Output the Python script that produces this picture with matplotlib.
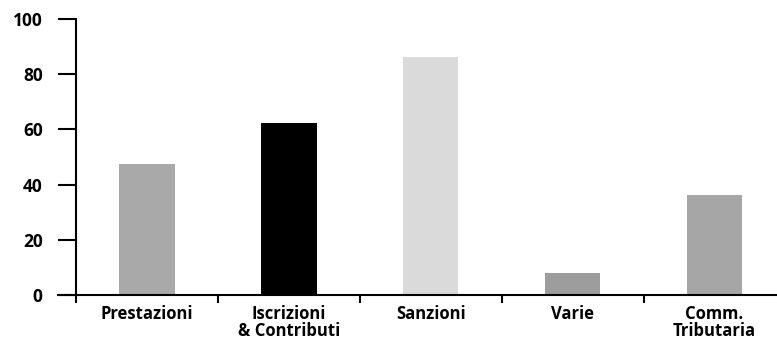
import matplotlib
matplotlib.use("Agg")
import matplotlib.pyplot as plt
import numpy as np

plt.rcParams["font.family"] = ["Open Sans", "DejaVu Sans"]

# data
categories = ["Prestazioni", "Iscrizioni\n& Contributi", "Sanzioni", "Varie", "Comm.\nTributaria"]
values = [47.5, 62.3, 86.2, 8.0, 36.2]
bar_colors = ["#a9a9a9", "#000000", "#dadada", "#9d9d9d", "#a6a6a6"]
yticks = [0, 20, 40, 60, 80, 100]

fig = plt.figure(figsize=(7.77, 3.43), dpi=100)
ax = fig.add_axes([0.0746, 0.140, 0.9254, 0.805])

x = np.arange(len(categories))
ax.bar(x, values, width=0.39, color=bar_colors, zorder=2)

ax.set_xlim(-0.627, 4.44)
ax.set_ylim(0, 100)

for s in ["top", "right"]:
    ax.spines[s].set_visible(False)
ax.spines["left"].set_position(("data", -0.5))
ax.spines["left"].set_linewidth(1.5)
ax.spines["bottom"].set_linewidth(1.5)

ax.set_yticks(yticks)
ax.set_yticklabels([str(v) for v in yticks], fontsize=12.5, fontweight="bold")
ax.tick_params(axis="y", direction="out", length=13, width=1.5, pad=11)

# category labels centred, separators as ticks between bars
ax.set_xticks(x)
ax.set_xticklabels(categories, fontsize=12, fontweight="bold", linespacing=0.95)
ax.tick_params(axis="x", which="major", length=0, pad=7)
ax.set_xticks(np.arange(len(categories)) - 0.5, minor=True)
ax.tick_params(axis="x", which="minor", direction="out", length=6, width=1.5)

fig.savefig("out.png", dpi=100)
